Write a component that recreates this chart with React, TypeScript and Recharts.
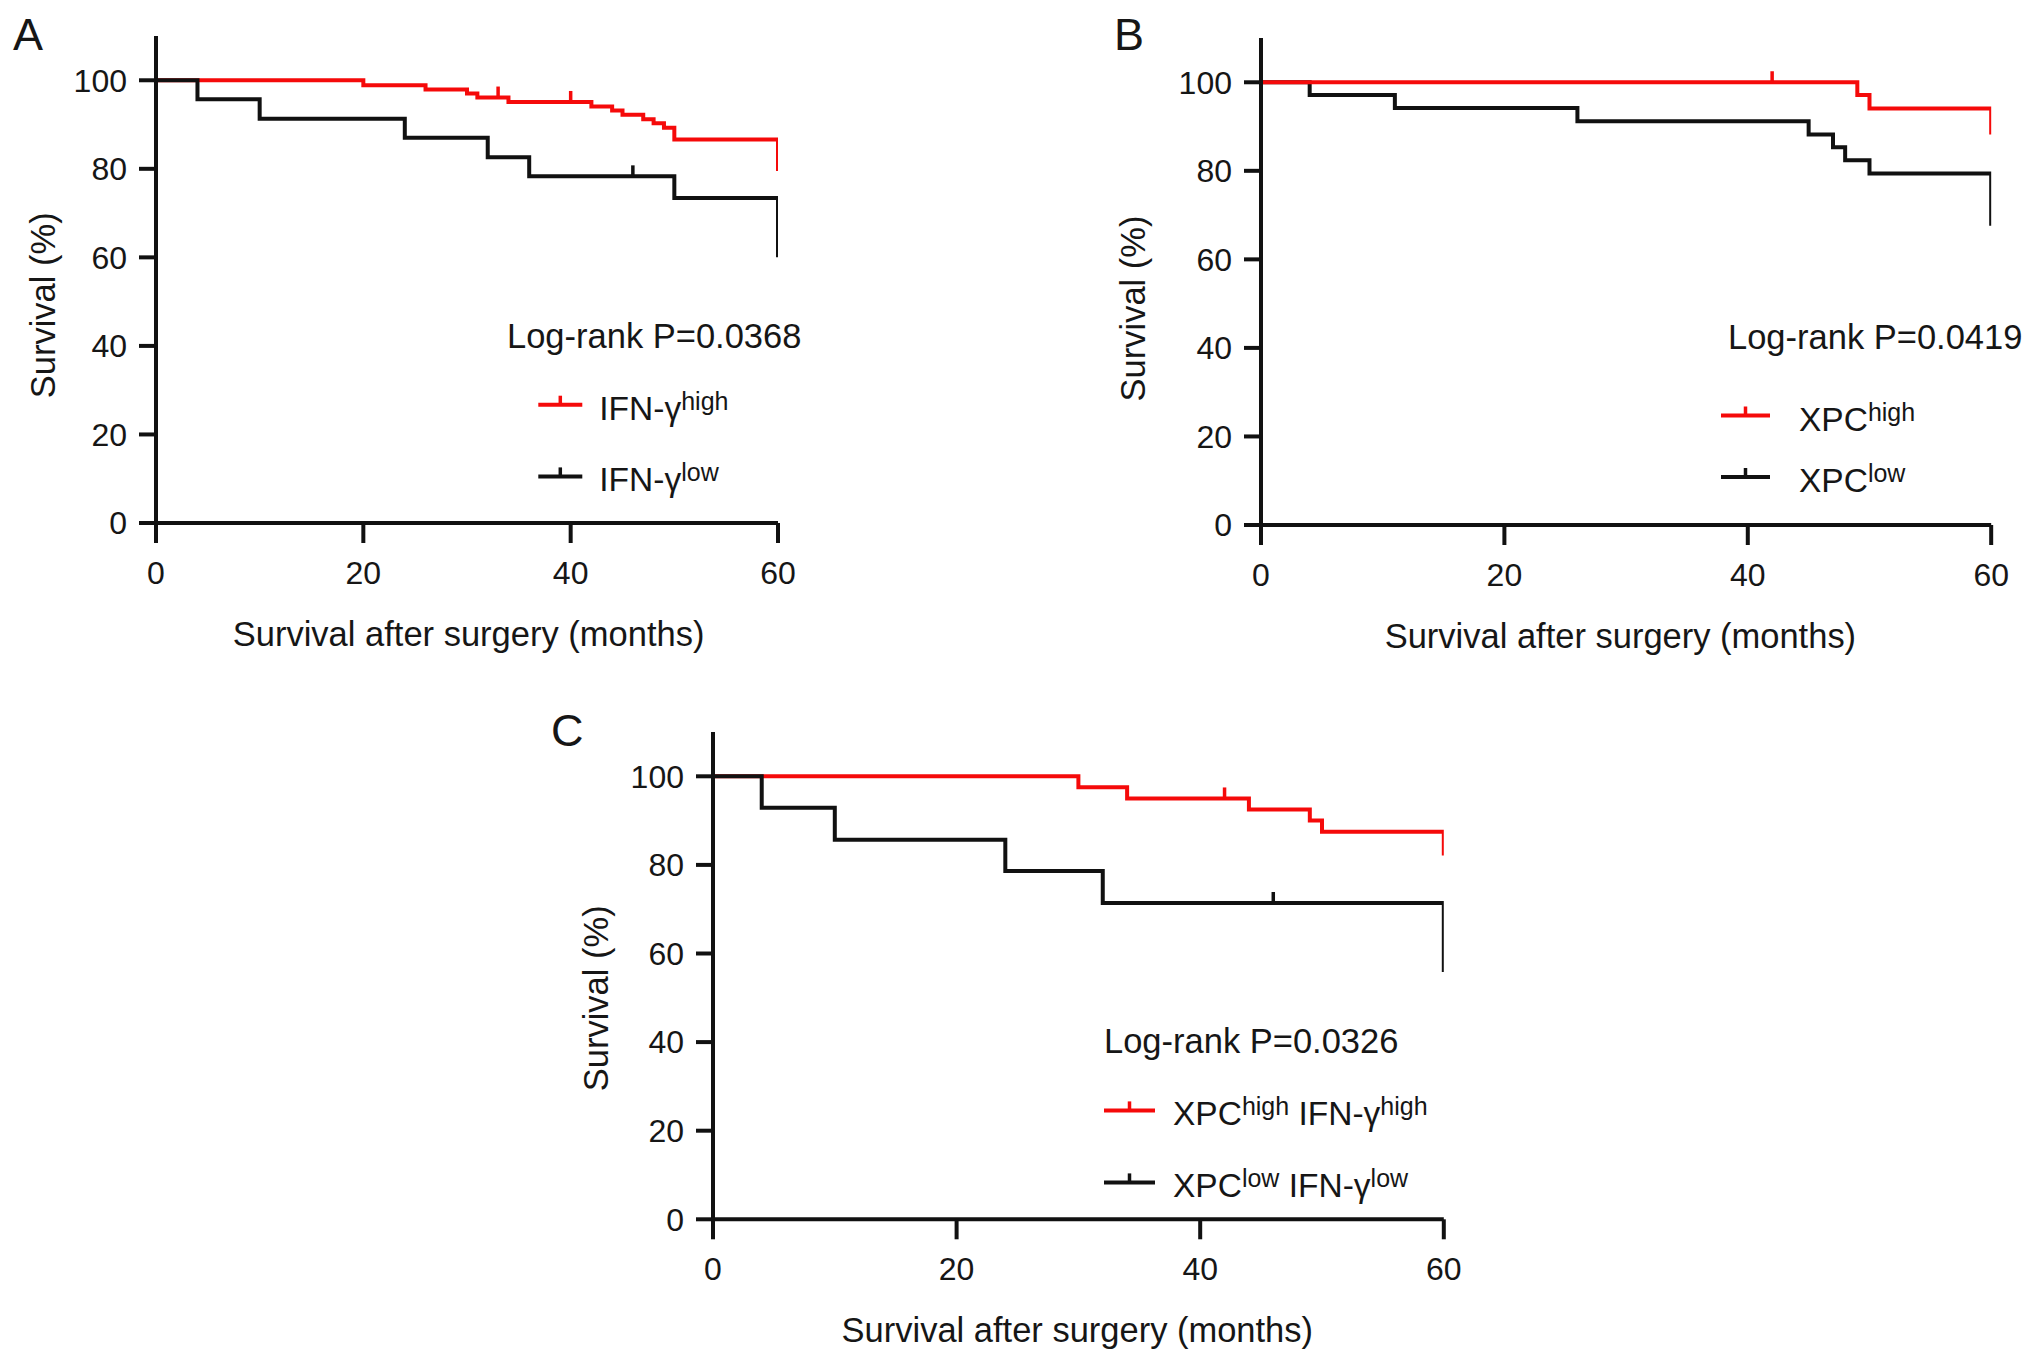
import React from 'react';
import { LineChart, Line, XAxis, YAxis, Legend } from 'recharts';

const FONT = '"Liberation Sans", Arial, Helvetica, sans-serif';
const RED = '#f50a0a';
const BLACK = '#111111';
const TEXT = '#161616';

const xTicks = [0, 20, 40, 60];
const yTicks = [0, 20, 40, 60, 80, 100];

// ---- Panel A: IFN-gamma ----
const aHighTimes = [0, 20, 26, 30, 31, 34, 42, 44, 45, 47, 48, 49, 50, 60, 60];
const aHighSurv = [100, 98.9, 97.9, 97.0, 96.1, 95.1, 94.1, 93.2, 92.2, 91.2, 90.3, 89.3, 86.6, 86.6, 79.5];
const aHighCensor = [33, 40];
const aLowTimes = [0, 4, 10, 24, 32, 36, 50, 60, 60];
const aLowSurv = [100, 95.7, 91.3, 87.0, 82.6, 78.3, 73.4, 73.4, 60.0];
const aLowCensor = [46];
const aPValue = 'Log-rank P=0.0368';
const aHighLabel: [string, string][] = [['IFN-γ', 'high']];
const aLowLabel: [string, string][] = [['IFN-γ', 'low']];

// ---- Panel B: XPC ----
const bHighTimes = [0, 49, 50, 60, 60];
const bHighSurv = [100, 97.1, 94.1, 94.1, 88.2];
const bHighCensor = [42];
const bLowTimes = [0, 4, 11, 26, 45, 47, 48, 50, 60, 60];
const bLowSurv = [100, 97.1, 94.2, 91.2, 88.2, 85.3, 82.4, 79.4, 79.4, 67.6];
const bLowCensor: number[] = [];
const bPValue = 'Log-rank P=0.0419';
const bHighLabel: [string, string][] = [['XPC', 'high']];
const bLowLabel: [string, string][] = [['XPC', 'low']];

// ---- Panel C: XPC + IFN-gamma ----
const cHighTimes = [0, 30, 34, 44, 49, 50, 60, 60];
const cHighSurv = [100, 97.5, 95.0, 92.5, 90.0, 87.5, 87.5, 82.1];
const cHighCensor = [42];
const cLowTimes = [0, 4, 10, 24, 32, 60, 60];
const cLowSurv = [100, 92.9, 85.7, 78.6, 71.4, 71.4, 55.8];
const cLowCensor = [46];
const cPValue = 'Log-rank P=0.0326';
const cHighLabel: [string, string][] = [['XPC', 'high'], [' IFN-γ', 'high']];
const cLowLabel: [string, string][] = [['XPC', 'low'], [' IFN-γ', 'low']];

const xTitle = 'Survival after surgery (months)';
const yTitle = 'Survival (%)';

type Pt = { t: number; s: number; c?: boolean };

function buildSeries(times: number[], surv: number[], censors: number[]): Pt[] {
  const pts: Pt[] = times.map((t, i) => ({ t, s: surv[i] }));
  censors.forEach((c) => {
    let level = surv[0];
    for (let i = 0; i < times.length; i++) if (times[i] <= c) level = surv[i];
    pts.push({ t: c, s: level, c: true });
  });
  return pts.sort((p, q) => p.t - q.t);
}

const LEG_FONT = 33.5;
const SUP_FONT = 25;
const SUP_DY = 10;
const STROKE = 4;

function LabelText({ parts, x, y }: { parts: [string, string][]; x: number; y: number }) {
  const spans: React.ReactNode[] = [];
  parts.forEach(([m, s], i) => {
    spans.push(
      <tspan key={'m' + i} dy={i === 0 ? 0 : SUP_DY}>
        {m}
      </tspan>
    );
    spans.push(
      <tspan key={'s' + i} dy={-SUP_DY} fontSize={SUP_FONT}>
        {s}
      </tspan>
    );
  });
  return (
    <text x={x} y={y} fontSize={LEG_FONT} fill={TEXT} fontFamily={FONT} style={{ whiteSpace: 'pre' }}>
      {spans}
    </text>
  );
}

function XTitle({ px, py }: any) {
  return (
    <text x={px} y={py} textAnchor="middle" fontSize={34.5} fill={TEXT} fontFamily={FONT}>
      {xTitle}
    </text>
  );
}

function YTitle({ px, py }: any) {
  return (
    <text
      transform={`translate(${px},${py}) rotate(-90)`}
      textAnchor="middle"
      fontSize={34.5}
      fill={TEXT}
      fontFamily={FONT}
    >
      {yTitle}
    </text>
  );
}

type SeriesCfg = { data: Pt[]; color: string; key: string };
type LegendRow = { y: number; color: string; parts: [string, string][] };
type PanelCfg = {
  plot: { l: number; t: number; r: number; b: number };
  series: SeriesCfg[];
  xTitleX: number;
  yTitleX: number;
  yTitleY: number;
  pValue: string;
  logX: number;
  logBase: number;
  lineX1: number;
  lineX2: number;
  textX: number;
  rows: LegendRow[];
};

function CensorDot(color: string) {
  return (props: any) => {
    const { cx, cy, payload, index } = props;
    if (!payload || !payload.c || cx == null || cy == null) return <g key={'d' + index} />;
    return <line key={'d' + index} x1={cx} y1={cy} x2={cx} y2={cy - 11} stroke={color} strokeWidth={3.5} />;
  };
}

function Panel({ cfg }: { cfg: PanelCfg }) {
  const { l, t, r, b } = cfg.plot;
  const left = l - 150;
  const top = t - 20;
  const width = r + 40 - left;
  const height = b + 140 - top;

  const boxLeft = cfg.logX - 10;
  const boxTop = cfg.logBase - 40;
  const boxW = 380;
  const boxH = cfg.rows[cfg.rows.length - 1].y + 30 - boxTop;

  const legendContent = () => (
    <svg width={boxW} height={boxH} style={{ overflow: 'visible', display: 'block' }}>
      <text x={cfg.logX - boxLeft} y={cfg.logBase - boxTop} fontSize={34.5} fill={TEXT} fontFamily={FONT}>
        {cfg.pValue}
      </text>
      {cfg.rows.map((row, i) => {
        const ly = row.y - boxTop;
        const x1 = cfg.lineX1 - boxLeft;
        const x2 = cfg.lineX2 - boxLeft;
        const mid = (x1 + x2) / 2;
        return (
          <g key={i}>
            <line x1={x1} y1={ly} x2={x2} y2={ly} stroke={row.color} strokeWidth={STROKE} />
            <line x1={mid} y1={ly} x2={mid} y2={ly - 9} stroke={row.color} strokeWidth={3.5} />
            <LabelText parts={row.parts} x={cfg.textX - boxLeft} y={ly + 15} />
          </g>
        );
      })}
    </svg>
  );

  return (
    <div style={{ position: 'absolute', left, top, width, height }}>
      <LineChart width={width} height={height} margin={{ top: 20, right: 40, bottom: 0, left: 0 }}>
        <XAxis
          type="number"
          dataKey="t"
          domain={[0, 60]}
          ticks={xTicks}
          interval={0}
          height={140}
          tickSize={20}
          tickMargin={18}
          allowDataOverflow
          axisLine={{ stroke: BLACK, strokeWidth: STROKE }}
          tickLine={{ stroke: BLACK, strokeWidth: STROKE }}
          tick={{ fontSize: 32, fill: TEXT, fontFamily: FONT }}
          label={<XTitle px={cfg.xTitleX - left} py={b + 123 - top} />}
        />
        <YAxis
          type="number"
          domain={[0, 110]}
          ticks={yTicks}
          interval={0}
          width={150}
          tickSize={17}
          tickMargin={12}
          allowDataOverflow
          axisLine={{ stroke: BLACK, strokeWidth: STROKE }}
          tickLine={{ stroke: BLACK, strokeWidth: STROKE }}
          tick={{ fontSize: 32, fill: TEXT, fontFamily: FONT }}
          label={<YTitle px={cfg.yTitleX - left} py={cfg.yTitleY - top} />}
        />
        {cfg.series.map((s) => (
          <Line
            key={s.key}
            data={s.data}
            dataKey="s"
            type="stepAfter"
            stroke={s.color}
            strokeWidth={STROKE}
            dot={CensorDot(s.color)}
            activeDot={false}
            isAnimationActive={false}
            legendType="none"
          />
        ))}
        <Legend
          content={legendContent}
          layout="vertical"
          align="center"
          verticalAlign="middle"
          wrapperStyle={{ left: boxLeft - left, top: boxTop - top, width: boxW, height: boxH }}
        />
      </LineChart>
    </div>
  );
}

const panelA: PanelCfg = {
  plot: { l: 156, t: 35.7, r: 778, b: 522.7 },
  series: [
    { key: 'aHigh', data: buildSeries(aHighTimes, aHighSurv, aHighCensor), color: RED },
    { key: 'aLow', data: buildSeries(aLowTimes, aLowSurv, aLowCensor), color: BLACK },
  ],
  xTitleX: 468.6,
  yTitleX: 55,
  yTitleY: 305,
  pValue: aPValue,
  logX: 506.7,
  logBase: 348.3,
  lineX1: 538,
  lineX2: 582,
  textX: 599,
  rows: [
    { y: 405, color: RED, parts: aHighLabel },
    { y: 476.7, color: BLACK, parts: aLowLabel },
  ],
};

const panelB: PanelCfg = {
  plot: { l: 1261.4, t: 37.5, r: 1991.6, b: 524.5 },
  series: [
    { key: 'bLow', data: buildSeries(bLowTimes, bLowSurv, bLowCensor), color: BLACK },
    { key: 'bHigh', data: buildSeries(bHighTimes, bHighSurv, bHighCensor), color: RED },
  ],
  xTitleX: 1620.8,
  yTitleX: 1145.6,
  yTitleY: 308,
  pValue: bPValue,
  logX: 1728,
  logBase: 349,
  lineX1: 1721,
  lineX2: 1770,
  textX: 1799,
  rows: [
    { y: 415.5, color: RED, parts: bHighLabel },
    { y: 477, color: BLACK, parts: bLowLabel },
  ],
};

const panelC: PanelCfg = {
  plot: { l: 712.7, t: 731.7, r: 1443.5, b: 1219 },
  series: [
    { key: 'cHigh', data: buildSeries(cHighTimes, cHighSurv, cHighCensor), color: RED },
    { key: 'cLow', data: buildSeries(cLowTimes, cLowSurv, cLowCensor), color: BLACK },
  ],
  xTitleX: 1077,
  yTitleX: 607.6,
  yTitleY: 998,
  pValue: cPValue,
  logX: 1104,
  logBase: 1053.3,
  lineX1: 1104,
  lineX2: 1155,
  textX: 1173,
  rows: [
    { y: 1110.7, color: RED, parts: cHighLabel },
    { y: 1182.7, color: BLACK, parts: cLowLabel },
  ],
};

const panelLetters: { text: string; x: number; y: number }[] = [
  { text: 'A', x: 13, y: 11.8 },
  { text: 'B', x: 1114, y: 12.4 },
  { text: 'C', x: 551, y: 707.8 },
];

export default function App() {
  return (
    <div style={{ position: 'relative', width: 2032, height: 1362, background: '#fff', fontFamily: FONT }}>
      <style>{'body{margin:0;background:#fff}'}</style>
      {panelLetters.map((p) => (
        <div
          key={p.text}
          style={{
            position: 'absolute',
            left: p.x,
            top: p.y,
            fontSize: 45,
            lineHeight: '45px',
            color: TEXT,
            fontFamily: FONT,
          }}
        >
          {p.text}
        </div>
      ))}
      <Panel cfg={panelA} />
      <Panel cfg={panelB} />
      <Panel cfg={panelC} />
    </div>
  );
}
